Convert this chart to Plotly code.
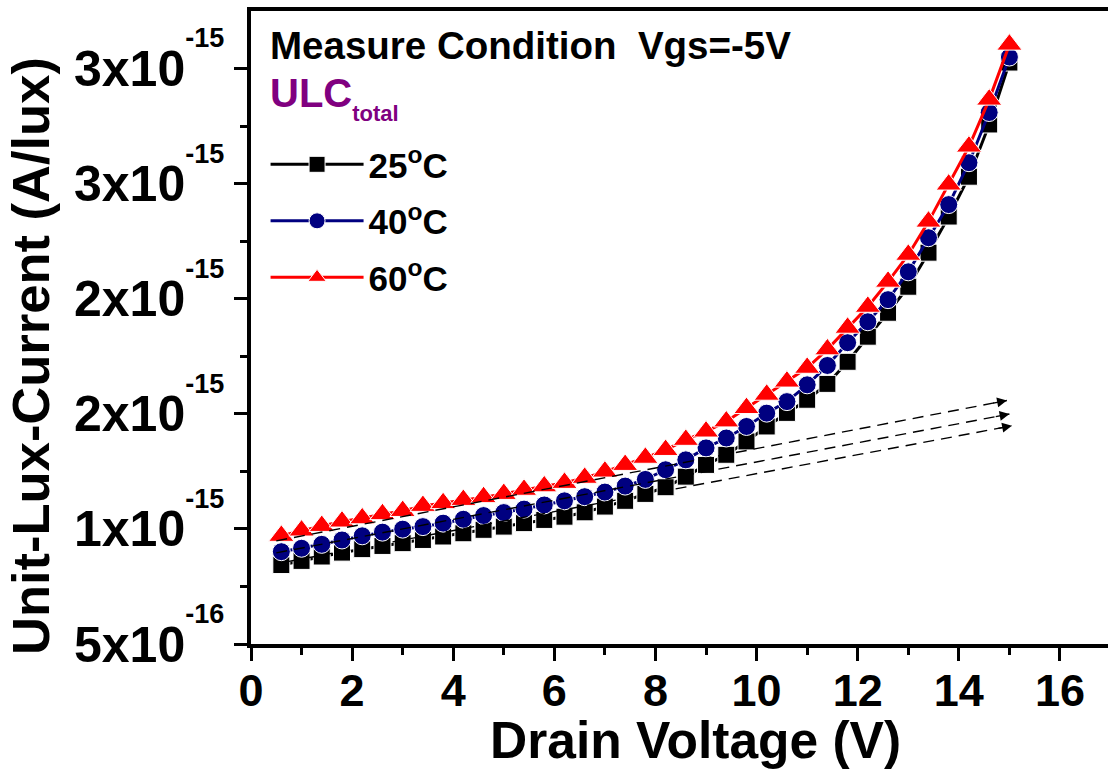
import plotly.graph_objects as go

# Drain voltage sweep (V)
vd = [0.6, 1.0, 1.4, 1.8, 2.2, 2.6, 3.0, 3.4, 3.8, 4.2, 4.6, 5.0, 5.4, 5.8, 6.2,
      6.6, 7.0, 7.4, 7.8, 8.2, 8.6, 9.0, 9.4, 9.8, 10.2, 10.6, 11.0, 11.4, 11.8,
      12.2, 12.6, 13.0, 13.4, 13.8, 14.2, 14.6, 15.0]

# Unit-lux current, in units of 1e-15 A/lux
ulc_25 = [0.843, 0.861, 0.880, 0.897, 0.912, 0.926, 0.938, 0.952, 0.967, 0.981,
          0.996, 1.010, 1.025, 1.039, 1.053, 1.072, 1.097, 1.122, 1.152, 1.181,
          1.227, 1.278, 1.322, 1.380, 1.445, 1.504, 1.561, 1.630, 1.726, 1.835,
          1.939, 2.052, 2.200, 2.357, 2.530, 2.757, 3.026]
ulc_40 = [0.901, 0.916, 0.933, 0.952, 0.970, 0.986, 0.999, 1.010, 1.025, 1.042,
          1.058, 1.071, 1.086, 1.104, 1.122, 1.140, 1.160, 1.186, 1.215, 1.257,
          1.300, 1.352, 1.395, 1.445, 1.503, 1.553, 1.626, 1.710, 1.809, 1.900,
          1.996, 2.117, 2.265, 2.409, 2.591, 2.809, 3.050]
ulc_60 = [0.970, 0.993, 1.013, 1.032, 1.046, 1.064, 1.078, 1.100, 1.112, 1.126,
          1.138, 1.152, 1.170, 1.185, 1.200, 1.222, 1.249, 1.278, 1.309, 1.343,
          1.387, 1.423, 1.467, 1.525, 1.583, 1.640, 1.700, 1.780, 1.874, 1.965,
          2.074, 2.191, 2.335, 2.496, 2.661, 2.865, 3.104]

# Linear extrapolation of the low-bias region (start/end), units of 1e-15 A/lux
trend_vd_25 = [0.7, 15.05]
trend_25 = [0.857, 1.448]
trend_vd_40 = [0.5, 15.0]
trend_40 = [0.896, 1.499]
trend_vd_60 = [0.5, 14.95]
trend_60 = [0.948, 1.558]

series_names = ["25<sup>o</sup>C", "40<sup>o</sup>C", "60<sup>o</sup>C"]

x_ticks = [0, 2, 4, 6, 8, 10, 12, 14, 16]
x_minor = [1, 3, 5, 7, 9, 11, 13, 15]
y_ticks = [0.5, 1.0, 1.5, 2.0, 2.5, 3.0]
y_mantissa = ["5", "1", "2", "2", "3", "3"]
y_exponent = ["-16", "-15", "-15", "-15", "-15", "-15"]
y_minor = [0.75, 1.25, 1.75, 2.25, 2.75]

E = 1e-15
FONT = "Liberation Sans, Arial, sans-serif"


def scaled(vals):
    return [v * E for v in vals]


def sci_label(m, e):
    # raised, reduced-size exponent
    return (f"{m}x10<span style='font-size:92px'><sup>"
            f"<span style='font-size:27px'>{e}</span></sup></span>")


y_tick_text = [sci_label(m, e) for m, e in zip(y_mantissa, y_exponent)]

fig = go.Figure()

styles = [
    (ulc_25, "#000000", "square", 17),
    (ulc_40, "#000080", "circle", 18),
    (ulc_60, "#ff0000", "triangle-up", 22),
]
for (vals, color, symbol, size), name in zip(styles, series_names):
    fig.add_trace(go.Scatter(
        x=vd, y=scaled(vals), name=name, mode="lines+markers",
        legendgroup=name,
        line=dict(color=color, width=3),
        marker=dict(symbol=symbol, size=size, color=color,
                    line=dict(color="white", width=1)),
    ))

# dashed extrapolation lines with arrowheads
for tx, ty in [(trend_vd_25, trend_25), (trend_vd_40, trend_40), (trend_vd_60, trend_60)]:
    fig.add_trace(go.Scatter(
        x=tx, y=scaled(ty), mode="lines", showlegend=False, hoverinfo="skip",
        line=dict(color="black", width=1.4, dash="11px,7px"),
    ))
    back = tx[1] - 0.3
    frac = (back - tx[0]) / (tx[1] - tx[0])
    back_y = ty[0] + frac * (ty[1] - ty[0])
    fig.add_annotation(
        x=tx[1], y=ty[1] * E, ax=back, ay=back_y * E, axref="x", ayref="y",
        xref="x", yref="y", text="", showarrow=True,
        arrowhead=2, arrowsize=1.4, arrowwidth=1.4, arrowcolor="black",
    )

bold = dict(family=FONT, color="black", weight=700)

fig.add_annotation(
    xref="paper", yref="paper", x=0.020, y=0.946, xanchor="left", yanchor="middle",
    text="Measure Condition  Vgs=-5V", showarrow=False,
    font=dict(size=38.5, **bold),
)
fig.add_annotation(
    xref="paper", yref="paper", x=0.020, y=0.862, xanchor="left", yanchor="middle",
    text="ULC<sub><sub><span style='font-size:22px'>total</span></sub></sub>",
    showarrow=False,
    font=dict(size=40, family=FONT, color="#800080", weight=700),
)
fig.add_annotation(
    xref="paper", yref="paper", x=0.519, y=-0.152, xanchor="center", yanchor="middle",
    text="Drain Voltage (V)", showarrow=False, font=dict(size=51.5, **bold),
)
fig.add_annotation(
    xref="paper", yref="paper", x=-0.2567, y=0.455, xanchor="center", yanchor="middle",
    text="Unit-Lux-Current (A/lux)", textangle=-90, showarrow=False,
    font=dict(size=52.5, **bold),
)

fig.update_layout(
    width=1108, height=771,
    margin=dict(l=251, r=0, t=11, b=127, autoexpand=False),
    plot_bgcolor="white", paper_bgcolor="white",
    showlegend=True,
    legend=dict(
        x=0.017, y=0.804, xanchor="left", yanchor="top",
        bgcolor="rgba(0,0,0,0)", borderwidth=0,
        font=dict(size=35, **bold), tracegroupgap=8, itemwidth=93,
    ),
    xaxis=dict(
        range=[0, 16.95], showgrid=False, zeroline=False,
        showline=True, linecolor="black", linewidth=3.5, mirror=True,
        ticks="outside", ticklen=13, tickwidth=3, tickcolor="black",
        tickmode="array", tickvals=x_ticks, ticklabelstandoff=-9,
        tickfont=dict(size=45, **bold),
        minor=dict(tickmode="array", tickvals=x_minor, ticks="outside",
                   ticklen=7, tickwidth=3, tickcolor="black"),
    ),
    yaxis=dict(
        range=[0.5 * E, 3.25 * E], showgrid=False, zeroline=False,
        showline=True, linecolor="black", linewidth=3.5,
        ticks="outside", ticklen=13, tickwidth=3, tickcolor="black",
        tickmode="array", tickvals=scaled(y_ticks), ticktext=y_tick_text,
        tickfont=dict(size=50, **bold),
        minor=dict(tickmode="array", tickvals=scaled(y_minor), ticks="outside",
                   ticklen=7, tickwidth=3, tickcolor="black"),
    ),
)

fig.write_html("out.html")
